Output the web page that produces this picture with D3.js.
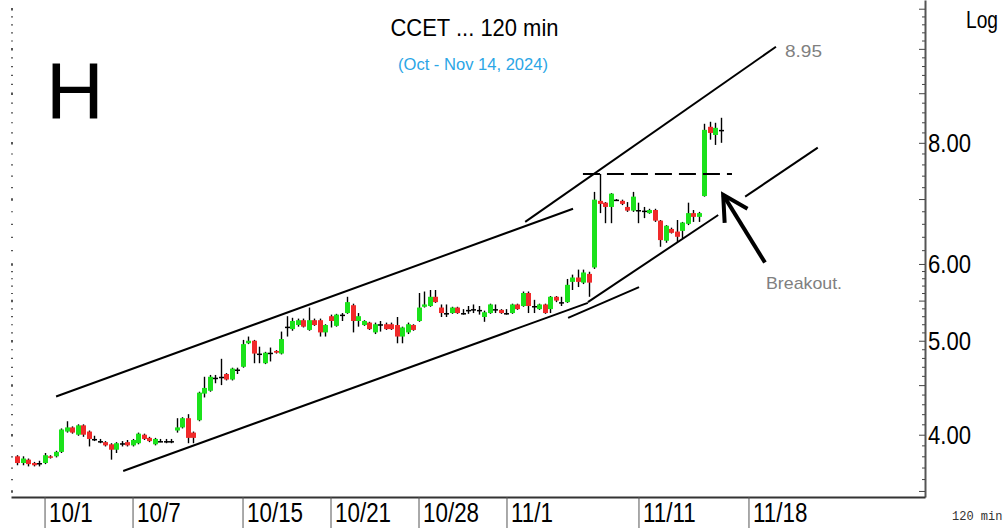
<!DOCTYPE html>
<html>
<head>
<meta charset="utf-8">
<script src="https://cdn.jsdelivr.net/npm/d3@7"></script>
<style>
  body { margin: 0; background: #fff; }
  svg { display: block; font-family: "Liberation Sans", Arial, sans-serif; }
</style>
</head>
<body>
<svg id="chart" width="1005" height="528"></svg>
<script>
// x ticks: bar index where each date starts
var tickBars = [5, 21, 41, 57, 73, 89, 113, 133];
var tickLabels = ["10/1", "10/7", "10/15", "10/21", "10/28", "11/1", "11/11", "11/18"];
var priceLabels = [8, 6, 5, 4];

// 120 min bars
var opens = [3.80,3.74,3.77,3.74,3.74,3.74,3.80,3.80,3.84,4.03,
  4.07,4.00,4.09,4.03,3.96,3.94,3.93,3.91,3.86,3.92,
  3.93,3.90,3.92,4.00,3.97,3.91,3.94,3.94,3.94,4.04,
  4.07,4.16,4.02,4.14,4.41,4.44,4.58,4.59,4.62,4.56,
  4.67,4.70,4.97,5.00,4.85,4.74,4.86,4.88,4.85,5.17,
  5.14,5.19,5.25,5.13,5.25,5.25,5.10,5.30,5.18,5.32,
  5.34,5.44,5.24,5.19,5.22,5.10,5.20,5.20,5.20,5.19,
  5.05,5.10,5.19,5.24,5.42,5.43,5.55,5.41,5.34,5.34,
  5.41,5.34,5.38,5.39,5.38,5.29,5.34,5.39,5.38,5.34,
  5.34,5.45,5.43,5.60,5.43,5.39,5.45,5.39,5.55,5.48,
  5.48,5.75,5.81,5.74,5.86,5.95,6.97,6.94,6.87,6.99,
  6.97,6.87,6.81,6.82,6.81,6.77,6.82,6.65,6.34,6.52,
  6.48,6.49,6.60,6.77,6.71,7.05,8.31,8.15,8.25];
var highs = [3.81,3.80,3.78,3.75,3.76,3.83,3.81,3.85,4.06,4.13,
  4.08,4.10,4.10,4.04,3.99,3.96,3.94,3.92,3.93,3.94,
  3.95,3.96,4.02,4.01,3.98,3.97,3.96,3.96,3.96,4.16,
  4.17,4.20,4.03,4.43,4.59,4.61,4.61,4.79,4.63,4.69,
  4.69,5.01,5.05,5.01,4.93,4.87,4.92,4.89,5.11,5.30,
  5.28,5.27,5.27,5.41,5.27,5.27,5.20,5.32,5.33,5.34,
  5.55,5.46,5.34,5.25,5.23,5.22,5.24,5.22,5.22,5.29,
  5.17,5.22,5.20,5.60,5.62,5.64,5.64,5.45,5.45,5.42,
  5.42,5.39,5.43,5.45,5.43,5.37,5.46,5.45,5.39,5.39,
  5.46,5.46,5.62,5.62,5.51,5.46,5.46,5.56,5.56,5.55,
  5.79,5.85,5.92,5.92,5.89,7.12,7.43,6.95,7.10,7.00,
  6.99,6.95,7.12,6.94,6.87,6.84,6.84,6.66,6.58,6.54,
  6.66,6.63,6.94,6.82,6.79,8.37,8.41,8.39,8.49];
var lows = [3.72,3.72,3.71,3.71,3.71,3.73,3.78,3.79,3.83,4.02,
  4.01,3.99,3.98,3.89,3.94,3.92,3.89,3.77,3.83,3.89,
  3.89,3.89,3.91,3.95,3.93,3.90,3.93,3.92,3.92,4.02,
  4.06,3.92,3.92,4.13,4.37,4.43,4.52,4.50,4.55,4.55,
  4.62,4.69,4.96,4.74,4.74,4.73,4.76,4.85,4.84,5.05,
  5.12,5.17,5.16,5.12,5.18,5.05,5.05,5.16,5.17,5.24,
  5.33,5.10,5.17,5.18,5.13,5.08,5.11,5.13,5.13,4.97,
  4.97,5.08,5.12,5.23,5.41,5.42,5.47,5.29,5.29,5.33,
  5.33,5.32,5.33,5.34,5.32,5.23,5.33,5.34,5.33,5.32,
  5.33,5.38,5.42,5.34,5.34,5.38,5.33,5.34,5.48,5.43,
  5.47,5.64,5.68,5.72,5.55,5.93,6.77,6.61,6.61,6.97,
  6.90,6.79,6.79,6.61,6.69,6.76,6.63,6.25,6.31,6.45,
  6.32,6.38,6.58,6.63,6.63,7.04,8.06,7.96,8.00];
var closes = [3.74,3.78,3.73,3.72,3.74,3.81,3.79,3.84,4.05,4.07,
  4.02,4.09,4.00,3.96,3.96,3.94,3.90,3.86,3.92,3.92,
  3.90,3.95,4.01,3.96,3.94,3.96,3.94,3.94,3.94,4.07,
  4.16,3.97,3.97,4.42,4.47,4.59,4.58,4.59,4.56,4.68,
  4.67,4.96,5.00,4.85,4.85,4.86,4.86,4.86,5.02,5.17,
  5.24,5.25,5.17,5.25,5.19,5.10,5.19,5.24,5.32,5.32,
  5.48,5.24,5.30,5.24,5.14,5.20,5.20,5.14,5.14,5.05,
  5.16,5.20,5.13,5.41,5.45,5.55,5.48,5.34,5.34,5.41,
  5.34,5.34,5.38,5.39,5.38,5.35,5.45,5.39,5.34,5.34,
  5.45,5.39,5.60,5.43,5.43,5.45,5.34,5.55,5.50,5.48,
  5.71,5.81,5.75,5.88,5.74,6.99,6.92,6.87,7.09,6.99,
  6.92,6.81,7.04,6.82,6.81,6.82,6.65,6.35,6.57,6.46,
  6.40,6.62,6.77,6.71,6.77,8.25,8.19,8.29,8.25];

// drawn lines: [bar index, price]
var upperWedge = [[7.1, 4.38], [101.1, 6.84]];
var lowerWedge = [[19.3, 3.67], [103.8, 5.47]];
var crossLine = [[100.2, 5.28], [113.1, 5.68]];
var upperChannel = [[92.4, 6.63], [138.0, 10.05]];
var lowerChannel = [[103.8, 5.48], [127.5, 6.74]];
var lowerChannelExt = [[132.4, 7.04], [145.6, 7.91]];
var resistance = [[102.9, 7.43], [130.0, 7.43]];
var arrowLine = [[136.0, 6.02], [128.4, 7.07]];

var svg = d3.select("#chart");
var plotLeft = 11, plotRight = 925, plotBottom = 497;

var xScale = d3.scaleLinear().domain([-1.1, 165.1]).range([plotLeft, plotRight]);
var yScale = d3.scaleLog().domain([3.45, 11.23]).range([plotBottom, 0]);

var bars = opens.map(function(o, i) {
    return {i: i, o: o, h: highs[i], l: lows[i], c: closes[i]};
});

// minor price ticks
var minorTicks = d3.range(3.5, 5.99, 0.1).concat(d3.range(6, 11.2, 0.2));
function isHalf(d) { return Math.abs(d * 2 - Math.round(d * 2)) < 0.01; }

// right axis
var rightAxis = svg.append("g")
    .attr("transform", "translate(" + plotRight + ",0)")
    .call(d3.axisLeft(yScale).tickValues(minorTicks).tickSize(3).tickSizeOuter(0).tickFormat(""));
rightAxis.select(".domain").attr("stroke", "#555").attr("stroke-width", 2);
rightAxis.selectAll(".tick line").attr("stroke", "#444")
    .attr("x2", function(d) { return isHalf(d) ? -6 : -3; });

// left tick dots
var leftAxis = svg.append("g")
    .attr("transform", "translate(" + plotLeft + ",0)")
    .call(d3.axisRight(yScale).tickValues(minorTicks).tickSize(2).tickFormat(""));
leftAxis.select(".domain").remove();
leftAxis.selectAll(".tick line").attr("stroke", "#555")
    .attr("stroke-width", function(d) { return isHalf(d) ? 2.5 : 1.2; });

// bottom axis
var bottomAxis = svg.append("g")
    .attr("transform", "translate(0," + plotBottom + ")")
    .call(d3.axisBottom(xScale).tickValues(tickBars).tickSize(31).tickSizeOuter(0)
        .tickFormat(function(d, k) { return tickLabels[k]; }));
bottomAxis.select(".domain").attr("stroke", "#333").attr("stroke-width", 2);
bottomAxis.selectAll(".tick line").attr("stroke", "#555");
bottomAxis.selectAll(".tick text")
    .attr("y", null).attr("dy", null).attr("x", null)
    .attr("text-anchor", "start")
    .attr("fill", "#000")
    .style("font-size", "27px")
    .attr("transform", "translate(4,25) scale(0.83,1)");

// price labels
svg.append("g").selectAll("text")
    .data(priceLabels)
    .enter().append("text")
    .attr("x", plotRight + 3)
    .attr("y", function(d) { return yScale(d) + 9; })
    .attr("textLength", 43)
    .attr("lengthAdjust", "spacingAndGlyphs")
    .style("font-size", "25px")
    .text(function(d) { return d.toFixed(2); });

svg.append("text")
    .attr("x", 966).attr("y", 28)
    .attr("textLength", 32).attr("lengthAdjust", "spacingAndGlyphs")
    .style("font-size", "23px")
    .text("Log");

svg.append("text")
    .attr("x", 952).attr("y", 520)
    .style("font-family", "'Liberation Mono', monospace")
    .style("font-size", "12px")
    .attr("fill", "#333")
    .text("120 min");

// candles
var bw = 5;
var candle = svg.append("g").selectAll("g")
    .data(bars)
    .enter().append("g");

candle.append("line")
    .attr("x1", function(d) { return Math.round(xScale(d.i)) + 0.5; })
    .attr("x2", function(d) { return Math.round(xScale(d.i)) + 0.5; })
    .attr("y1", function(d) { return yScale(d.h); })
    .attr("y2", function(d) { return yScale(d.l); })
    .attr("stroke", "#000")
    .attr("stroke-width", 1.4);

candle.append("rect")
    .attr("x", function(d) { return Math.round(xScale(d.i)) + 0.5 - bw / 2; })
    .attr("y", function(d) { return yScale(Math.max(d.o, d.c)); })
    .attr("width", bw)
    .attr("height", function(d) {
        return Math.max(1.5, Math.abs(yScale(d.o) - yScale(d.c)));
    })
    .attr("fill", function(d) {
        if (d.o === d.c) return "#000";
        return d.c > d.o ? "#1be21b" : "#f02a2a";
    });

// trend lines
var line = d3.line()
    .x(function(d) { return xScale(d[0]); })
    .y(function(d) { return yScale(d[1]); });

[upperWedge, lowerWedge, crossLine, upperChannel, lowerChannel, lowerChannelExt].forEach(function(seg) {
    svg.append("path")
        .datum(seg)
        .attr("fill", "none")
        .attr("stroke", "#000")
        .attr("stroke-width", 2)
        .attr("d", line);
});

svg.append("path")
    .datum(resistance)
    .attr("fill", "none")
    .attr("stroke", "#000")
    .attr("stroke-width", 2)
    .attr("stroke-dasharray", "17,7")
    .attr("d", line);

// arrow to the breakout
svg.append("path")
    .datum(arrowLine)
    .attr("fill", "none")
    .attr("stroke", "#000")
    .attr("stroke-width", 4)
    .attr("d", line);

var tipX = xScale(arrowLine[1][0]), tipY = yScale(arrowLine[1][1]);
var ang = Math.atan2(yScale(arrowLine[0][1]) - tipY, xScale(arrowLine[0][0]) - tipX);
var headLen = 28, spread = 0.5;
svg.append("path")
    .attr("fill", "none")
    .attr("stroke", "#000")
    .attr("stroke-width", 4)
    .attr("stroke-linejoin", "miter")
    .attr("d", "M" + (tipX + headLen * Math.cos(ang - spread)) + "," + (tipY + headLen * Math.sin(ang - spread)) +
        "L" + tipX + "," + tipY +
        "L" + (tipX + headLen * Math.cos(ang + spread)) + "," + (tipY + headLen * Math.sin(ang + spread)));

// annotations
svg.append("text")
    .attr("x", 785).attr("y", 57)
    .attr("fill", "#808080")
    .attr("textLength", 37).attr("lengthAdjust", "spacingAndGlyphs")
    .style("font-size", "17px")
    .text("8.95");

svg.append("text")
    .attr("x", 766).attr("y", 289)
    .attr("fill", "#808080")
    .attr("textLength", 76).attr("lengthAdjust", "spacingAndGlyphs")
    .style("font-size", "17px")
    .text("Breakout.");

svg.append("text")
    .attr("x", 46).attr("y", 118)
    .style("font-size", "80px")
    .text("H");

svg.append("text")
    .attr("x", 474.5).attr("y", 36)
    .attr("text-anchor", "middle")
    .attr("textLength", 168).attr("lengthAdjust", "spacingAndGlyphs")
    .style("font-size", "24px")
    .text("CCET ... 120 min");

svg.append("text")
    .attr("x", 473).attr("y", 70)
    .attr("text-anchor", "middle")
    .attr("fill", "#2ba6e6")
    .attr("textLength", 150).attr("lengthAdjust", "spacingAndGlyphs")
    .style("font-size", "17px")
    .text("(Oct - Nov 14, 2024)");
</script>
</body>
</html>
